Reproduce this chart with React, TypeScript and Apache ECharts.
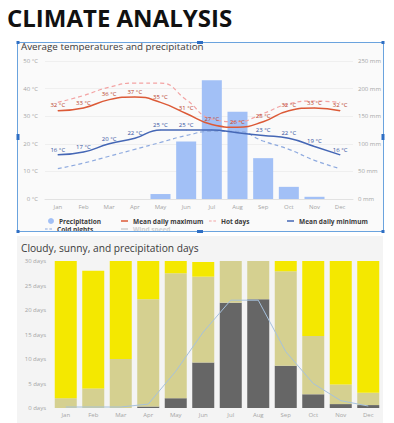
import React, { useEffect, useRef } from 'react';
import * as echarts from 'echarts';

const months = ['Jan', 'Feb', 'Mar', 'Apr', 'May', 'Jun', 'Jul', 'Aug', 'Sep', 'Oct', 'Nov', 'Dec'];

// Top chart (°C / mm)
const precipitation = [0, 0, 0, 0, 9, 104, 215, 158, 74, 22, 4, 0];
const meanMax = [32, 33, 36, 37, 35, 31, 27, 26, 28, 32, 33, 32];
const hotDays = [35, 37.5, 40.5, 42, 42, 36, 29, 28, 31, 34.5, 35.5, 35];
const meanMin = [16, 17, 20, 22, 25, 25, 25, 24, 23, 22, 19, 16];
const coldNights = [11, 13, 15.5, 18, 20.5, 23, 24.5, 24.5, 21, 18, 14, 11];
const hiddenMinLabels = [6, 7];

// Bottom chart (days)
const overcastDays = [0, 0, 0, 0.3, 2, 9.3, 21.5, 22.2, 8.6, 2.8, 0.8, 0.6];
const partlyCloudyDays = [2, 4, 10, 21.9, 25.5, 17.5, 8.5, 7.8, 19.3, 11.9, 4, 2.5];
const sunnyDays = [28, 24, 20, 7.8, 2.5, 3, 0, 0, 2.1, 15.3, 25.2, 26.9];
const precipitationDays = [0.2, 0.2, 0.2, 0.8, 7.5, 15.5, 22, 22, 11.5, 5, 1.5, 0.4];

const FONT = 'Open Sans';
const DASH_ICON = 'path://M0,0h3v1h-3z M5,0h3v1h-3z';

export default function App() {
  const ref = useRef<HTMLDivElement>(null);

  useEffect(() => {
    if (!ref.current) return;
    const chart = echarts.init(ref.current, undefined, { renderer: 'svg' });

    const axisLabel = { fontSize: 6, color: '#a5a5a5', fontFamily: FONT };
    const legendText = { fontSize: 6.5, fontWeight: 'bold' as const, color: '#3a3a3a', fontFamily: FONT };
    const lg = (name: string, left: number, top: number, icon: string, w: number, h: number, extra: any = {}) => ({
      data: [{ name, icon }],
      left,
      top,
      itemWidth: w,
      itemHeight: h,
      padding: 0,
      itemGap: 0,
      textStyle: legendText,
      inactiveColor: '#cfcfcf',
      ...extra,
    });

    const handle = (cx: number, cy: number, w: number, h: number) => ({
      type: 'rect',
      shape: { x: cx - w / 2, y: cy - h / 2, width: w, height: h },
      style: { fill: '#2f6fc4' },
      z: 120,
    });

    chart.setOption({
      animation: false,
      backgroundColor: '#ffffff',
      title: [
        {
          text: 'CLIMATE ANALYSIS',
          left: 7,
          top: 5,
          padding: 0,
          textStyle: { fontSize: 24, fontWeight: 'bold', color: '#111111', fontFamily: FONT },
        },
        {
          text: 'Average temperatures and precipitation',
          left: 21,
          top: 41.5,
          padding: 0,
          textStyle: { fontSize: 9.8, fontWeight: 'normal', color: '#3a3a3a', fontFamily: FONT },
        },
        {
          text: 'Cloudy, sunny, and precipitation days',
          left: 21,
          top: 242.5,
          padding: 0,
          textStyle: { fontSize: 10.2, fontWeight: 'normal', color: '#3a3a3a', fontFamily: FONT },
        },
      ],
      legend: [
        lg('Precipitation', 48, 217.5, 'circle', 6, 6),
        lg('Mean daily maximum', 121, 217.5, 'rect', 7, 1.5),
        lg('Hot days', 209, 217.5, DASH_ICON, 7, 1.2),
        lg('Mean daily minimum', 287, 217.5, 'rect', 7, 1.5),
        lg('Cold nights', 45, 225.5, DASH_ICON, 7, 1.2),
        lg('Wind speed', 121, 225.5, 'rect', 7, 1.5, { selected: { 'Wind speed': false } }),
      ],
      grid: [
        { left: 45, right: 41, top: 61, bottom: 224 },
        { left: 52, right: 12, top: 261, bottom: 15 },
      ],
      xAxis: [
        {
          gridIndex: 0,
          type: 'category',
          data: months,
          axisTick: { show: false },
          axisLine: { lineStyle: { color: '#e2e2e2' } },
          axisLabel: { ...axisLabel, margin: 5 },
        },
        {
          gridIndex: 1,
          type: 'category',
          data: months,
          axisTick: { show: false },
          axisLine: { show: false },
          axisLabel: { ...axisLabel, margin: 4 },
        },
      ],
      yAxis: [
        {
          gridIndex: 0,
          type: 'value',
          min: 0,
          max: 50,
          interval: 10,
          axisLabel: { ...axisLabel, margin: 7, formatter: '{value} °C' },
          splitLine: { lineStyle: { color: '#ececec', width: 0.8 } },
        },
        {
          gridIndex: 0,
          type: 'value',
          position: 'right',
          min: 0,
          max: 250,
          interval: 50,
          axisLabel: { ...axisLabel, margin: 5, formatter: '{value} mm' },
          splitLine: { show: false },
        },
        {
          gridIndex: 1,
          type: 'value',
          min: 0,
          max: 30,
          interval: 5,
          axisLabel: { ...axisLabel, margin: 6, formatter: '{value} days' },
          splitLine: { show: false },
        },
      ],
      graphic: [
        {
          type: 'rect',
          shape: { x: 17.5, y: 42.5, width: 366, height: 189 },
          style: { fill: '#fafafa', stroke: '#6aa3de', lineWidth: 1 },
          z: -10,
        },
        {
          type: 'rect',
          shape: { x: 17, y: 236, width: 366, height: 187 },
          style: { fill: '#f4f4f4' },
          z: -10,
        },
        {
          type: 'rect',
          shape: { x: 10, y: 231.5, width: 380, height: 4.5 },
          style: { fill: '#ffffff' },
          z: 100,
        },
        {
          type: 'line',
          shape: { x1: 17.5, y1: 231.5, x2: 383.5, y2: 231.5 },
          style: { stroke: '#6aa3de', lineWidth: 1 },
          z: 110,
        },
        handle(18, 42.5, 3, 3),
        handle(200, 42.5, 6, 3),
        handle(383, 42.5, 3, 3),
        handle(18, 137, 3, 6),
        handle(383, 137, 3, 6),
        handle(18, 231.5, 3, 3),
        handle(200, 231.5, 6, 3),
        handle(383, 231.5, 3, 3),
      ],
      series: [
        {
          name: 'Precipitation',
          type: 'bar',
          xAxisIndex: 0,
          yAxisIndex: 1,
          data: precipitation,
          barWidth: '78%',
          itemStyle: { color: '#a2c0f6' },
          z: 1,
        },
        {
          name: 'Hot days',
          type: 'line',
          xAxisIndex: 0,
          yAxisIndex: 0,
          data: hotDays,
          smooth: true,
          symbol: 'none',
          lineStyle: { color: '#f3a3a3', width: 1.2, type: [4, 3] },
          itemStyle: { color: '#f3a3a3' },
          z: 3,
        },
        {
          name: 'Cold nights',
          type: 'line',
          xAxisIndex: 0,
          yAxisIndex: 0,
          data: coldNights,
          smooth: true,
          symbol: 'none',
          lineStyle: { color: '#8eaadf', width: 1.2, type: [4, 3] },
          itemStyle: { color: '#8eaadf' },
          z: 3,
        },
        {
          name: 'Mean daily maximum',
          type: 'line',
          xAxisIndex: 0,
          yAxisIndex: 0,
          data: meanMax,
          smooth: true,
          symbol: 'circle',
          symbolSize: 0.5,
          lineStyle: { color: '#dc5a37', width: 1.5 },
          itemStyle: { color: '#dc5a37' },
          label: {
            show: true,
            position: 'top',
            distance: 2,
            fontSize: 6,
            color: '#b9432c',
            fontFamily: FONT,
            formatter: '{c} °C',
          },
          z: 4,
        },
        {
          name: 'Mean daily minimum',
          type: 'line',
          xAxisIndex: 0,
          yAxisIndex: 0,
          data: meanMin.map((v, i) => (hiddenMinLabels.includes(i) ? { value: v, label: { show: false } } : v)),
          smooth: true,
          symbol: 'circle',
          symbolSize: 0.5,
          lineStyle: { color: '#4567b5', width: 1.5 },
          itemStyle: { color: '#4567b5' },
          label: {
            show: true,
            position: 'top',
            distance: 2,
            fontSize: 6,
            color: '#34539e',
            fontFamily: FONT,
            formatter: '{c} °C',
          },
          z: 4,
        },
        {
          name: 'Wind speed',
          type: 'line',
          xAxisIndex: 0,
          yAxisIndex: 0,
          data: [],
          symbol: 'none',
          lineStyle: { color: '#9bb5d8', width: 1.5 },
          itemStyle: { color: '#9bb5d8' },
        },
        {
          name: 'Overcast',
          type: 'bar',
          xAxisIndex: 1,
          yAxisIndex: 2,
          stack: 'days',
          data: overcastDays,
          barWidth: '80%',
          itemStyle: { color: '#666666' },
        },
        {
          name: 'Partly cloudy',
          type: 'bar',
          xAxisIndex: 1,
          yAxisIndex: 2,
          stack: 'days',
          data: partlyCloudyDays,
          barWidth: '80%',
          itemStyle: { color: '#d5d090' },
        },
        {
          name: 'Sunny',
          type: 'bar',
          xAxisIndex: 1,
          yAxisIndex: 2,
          stack: 'days',
          data: sunnyDays,
          barWidth: '80%',
          itemStyle: { color: '#f4e800' },
        },
        {
          name: 'Precipitation days',
          type: 'line',
          xAxisIndex: 1,
          yAxisIndex: 2,
          data: precipitationDays,
          symbol: 'none',
          lineStyle: { color: '#a6c1dc', width: 1 },
          itemStyle: { color: '#a6c1dc' },
          z: 5,
        },
      ],
    });

    return () => chart.dispose();
  }, []);

  return (
    <div
      ref={ref}
      style={{ position: 'absolute', left: 0, top: 0, width: 394, height: 423 }}
    />
  );
}
